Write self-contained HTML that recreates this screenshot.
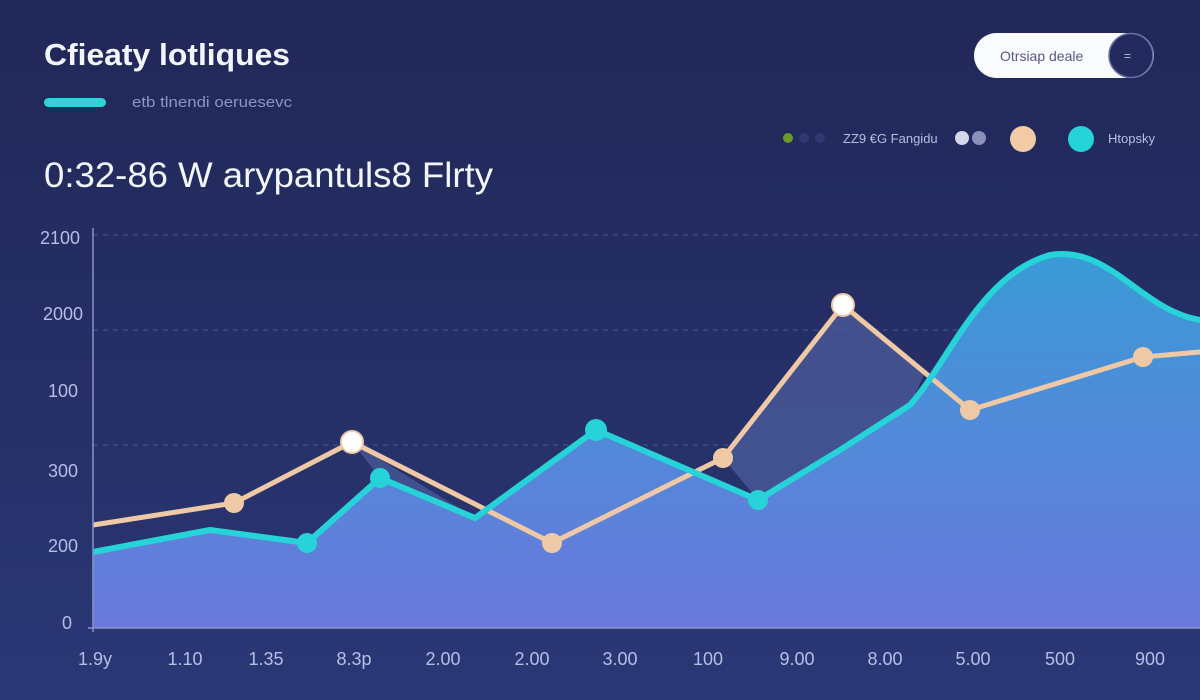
<!DOCTYPE html>
<html><head><meta charset="utf-8"><style>
body{margin:0;width:1200px;height:700px;overflow:hidden;background:linear-gradient(180deg,#212858 0%,#263068 60%,#2b3877 100%);font-family:"Liberation Sans",sans-serif;color:#fff}
</style></head><body>
<svg width="1200" height="700" xmlns="http://www.w3.org/2000/svg" style="position:absolute;left:0;top:0">
<defs>
<linearGradient id="fa" x1="0" y1="0" x2="0" y2="1"><stop offset="0" stop-color="#3a9ad6"/><stop offset="1" stop-color="#6a78dc"/></linearGradient>
</defs>
<text x="44" y="65" font-size="31" font-weight="bold" fill="#f4f6ff" textLength="246" lengthAdjust="spacingAndGlyphs">Cfieaty lotliques</text>
<rect x="44" y="98" width="62" height="9" rx="4.5" fill="#2fd4d8"/>
<text x="132" y="107" font-size="15" fill="#8e95c0" textLength="160" lengthAdjust="spacingAndGlyphs">etb tlnendi oeruesevc</text>
<text x="44" y="187" font-size="35" fill="#f4f6ff" textLength="449" lengthAdjust="spacingAndGlyphs">0:32-86 W arypantuls8 Flrty</text>
<rect x="974" y="33" width="180" height="45" rx="22.5" fill="#fafbff"/>
<circle cx="1131" cy="55.5" r="22" fill="#232a5e" stroke="#6870a8" stroke-width="1.5"/>
<text x="1000" y="61" font-size="14" fill="#555a80">Otrsiap deale</text>
<text x="1124" y="60" font-size="12" fill="#c0c4e8">=</text>
<circle cx="788" cy="138" r="5" fill="#6a9a2a"/><circle cx="804" cy="138" r="5" fill="#2f3870"/><circle cx="820" cy="138" r="5" fill="#2f3870"/>
<text x="843" y="143" font-size="13" fill="#b8bde0">ZZ9 €G Fangidu</text>
<circle cx="962" cy="138" r="7" fill="#d5d7ea"/><circle cx="979" cy="138" r="7" fill="#8a90b8"/>
<circle cx="1023" cy="139" r="13" fill="#f1cba6"/>
<circle cx="1081" cy="139" r="13" fill="#25d3d8"/>
<text x="1108" y="143" font-size="13" fill="#b8bde0">Htopsky</text>
<g stroke="#4a5590" stroke-dasharray="5 5" stroke-width="1">
<line x1="93" y1="235" x2="1200" y2="235"/><line x1="93" y1="330" x2="1200" y2="330"/><line x1="93" y1="445" x2="1200" y2="445"/>
</g>
<path d="M93,552 L210,530 L307,543 L380,478 L475,518 L596,430 L758,500 L840,450 L910,405 C950,360 980,275 1050,255 C1110,245 1140,310 1200,320 L1200,628 L93,628 Z" fill="url(#fa)"/>
<path d="M352,442 L475,518 L380,478 Z" fill="#4c5c9c" opacity="0.7"/>
<path d="M723,458 L843,305 L925,373 L910,405 L840,450 L758,500 Z" fill="#4c5c9c" opacity="0.75"/>
<polyline points="93,525 234,503 352,442 552,543 723,458 843,305 970,410 1143,357 1200,352" fill="none" stroke="#efc9a6" stroke-width="5" stroke-linejoin="round"/>
<path d="M93,552 L210,530 L307,543 L380,478 L475,518 L596,430 L758,500 L840,450 L910,405 C950,360 980,275 1050,255 C1110,245 1140,310 1200,320" fill="none" stroke="#25d3d8" stroke-width="6" stroke-linejoin="round"/>
<g fill="#efc9a6"><circle cx="234" cy="503" r="10"/><circle cx="552" cy="543" r="10"/><circle cx="723" cy="458" r="10"/><circle cx="970" cy="410" r="10"/><circle cx="1143" cy="357" r="10"/></g>
<g fill="#fff" stroke="#efc9a6" stroke-width="2"><circle cx="352" cy="442" r="11"/><circle cx="843" cy="305" r="11"/></g>
<g fill="#25d3d8"><circle cx="307" cy="543" r="10"/><circle cx="380" cy="478" r="10"/><circle cx="596" cy="430" r="11"/><circle cx="758" cy="500" r="10"/></g>
<line x1="93" y1="228" x2="93" y2="632" stroke="#8a92c8" stroke-width="1.5"/>
<line x1="88" y1="628" x2="1200" y2="628" stroke="#8a92c8" stroke-width="1.5"/>
<g font-size="18" fill="#b8bde6" text-anchor="end">
<text x="80" y="244">2100</text><text x="83" y="320">2000</text><text x="78" y="397">100</text><text x="78" y="477">300</text><text x="78" y="552">200</text><text x="72" y="629">0</text>
</g>
<g font-size="18" fill="#b8bde6" text-anchor="middle">
<text x="95" y="665">1.9y</text><text x="185" y="665">1.10</text><text x="266" y="665">1.35</text><text x="354" y="665">8.3p</text><text x="443" y="665">2.00</text><text x="532" y="665">2.00</text><text x="620" y="665">3.00</text><text x="708" y="665">100</text><text x="797" y="665">9.00</text><text x="885" y="665">8.00</text><text x="973" y="665">5.00</text><text x="1060" y="665">500</text><text x="1150" y="665">900</text>
</g>
</svg>
</body></html>
